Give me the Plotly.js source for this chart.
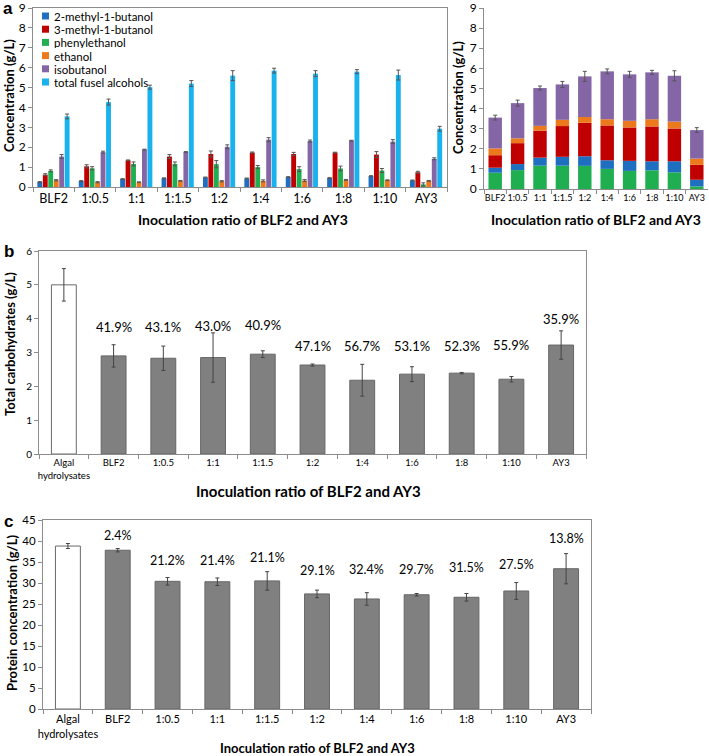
<!DOCTYPE html>
<html>
<head>
<meta charset="utf-8">
<script src="https://cdn.plot.ly/plotly-3.0.1.min.js"></script>
<style>html,body{margin:0;padding:0;background:#fff;}#chart{width:709px;height:756px;}</style>
</head>
<body>
<div id="chart"></div>
<script>
// ---------- DATA ----------
const ratios = ['BLF2', '1:0.5', '1:1', '1:1.5', '1:2', '1:4', '1:6', '1:8', '1:10', 'AY3'];
const seriesNames = ['2-methyl-1-butanol', '3-methyl-1-butanol', 'phenylethanol', 'ethanol', 'isobutanol', 'total fusel alcohols'];

const methylButanol2 = [0.25, 0.30, 0.40, 0.44, 0.48, 0.43, 0.50, 0.45, 0.55, 0.33];
const methylButanol2Err = [0.02, 0.02, 0.02, 0.02, 0.02, 0.02, 0.02, 0.02, 0.02, 0.02];
const methylButanol3 = [0.62, 1.04, 1.34, 1.53, 1.66, 1.73, 1.66, 1.73, 1.63, 0.74];
const methylButanol3Err = [0.05, 0.08, 0.02, 0.10, 0.15, 0.03, 0.08, 0.02, 0.15, 0.05];
const phenylethanol = [0.81, 0.94, 1.16, 1.16, 1.15, 1.00, 0.90, 0.93, 0.83, 0.13];
const phenylethanolErr = [0.05, 0.08, 0.10, 0.10, 0.18, 0.08, 0.12, 0.12, 0.10, 0.08];
const ethanol = [0.34, 0.24, 0.24, 0.31, 0.29, 0.31, 0.33, 0.36, 0.34, 0.31];
const ethanolErr = [0.03, 0.03, 0.02, 0.02, 0.03, 0.05, 0.05, 0.02, 0.02, 0.02];
const isobutanol = [1.53, 1.75, 1.88, 1.76, 2.02, 2.38, 2.31, 2.33, 2.28, 1.42];
const isobutanolErr = [0.10, 0.05, 0.02, 0.02, 0.10, 0.10, 0.05, 0.02, 0.10, 0.05];
const totalFusel = [3.55, 4.27, 5.02, 5.20, 5.60, 5.85, 5.70, 5.80, 5.63, 2.93];
const totalFuselErr = [0.12, 0.15, 0.10, 0.15, 0.25, 0.12, 0.15, 0.10, 0.25, 0.12];

const bcCategories = ['Algal<br>hydrolysates', 'BLF2', '1:0.5', '1:1', '1:1.5', '1:2', '1:4', '1:6', '1:8', '1:10', 'AY3'];
const carbohydrates = [5.00, 2.90, 2.83, 2.85, 2.95, 2.63, 2.18, 2.36, 2.39, 2.21, 3.22];
const carbohydratesErr = [0.48, 0.33, 0.36, 0.73, 0.10, 0.03, 0.47, 0.22, 0.02, 0.08, 0.42];
const carbPct = ['', '41.9%', '43.1%', '43.0%', '40.9%', '47.1%', '56.7%', '53.1%', '52.3%', '55.9%', '35.9%'];
const protein = [38.8, 37.8, 30.4, 30.3, 30.5, 27.4, 26.2, 27.2, 26.6, 28.1, 33.4];
const proteinErr = [0.6, 0.4, 0.9, 0.9, 2.2, 0.9, 1.5, 0.3, 0.9, 2.0, 3.6];
const proteinPct = ['', '2.4%', '21.2%', '21.4%', '21.1%', '29.1%', '32.4%', '29.7%', '31.5%', '27.5%', '13.8%'];

// ---------- STYLE ----------
const colors = ['#1f6fc0', '#c00000', '#1fae50', '#ec7a1c', '#8466a6', '#19b2ec'];
const FONT = 'Lato, "Liberation Sans", sans-serif';
const AXC = '#8c8c8c';
const W = 709, H = 756;
const px = v => v / W;
const py = v => 1 - v / H;

// label heights (data units) for percentage annotations
const carbLabelY = [null, 3.75, 3.75, 3.77, 3.80, 3.20, 3.20, 3.19, 3.20, 3.22, 4.00];
const protLabelY = [null, 41.2, 35.4, 35.4, 36.0, 33.0, 33.1, 33.2, 33.8, 34.4, 40.6];

const grouped = [methylButanol2, methylButanol3, phenylethanol, ethanol, isobutanol, totalFusel];
const groupedErr = [methylButanol2Err, methylButanol3Err, phenylethanolErr, ethanolErr, isobutanolErr, totalFuselErr];

const traces = [];
// Panel a left: grouped bars
const bw = 0.118, step = 0.132, start = -0.395;
grouped.forEach((vals, i) => {
  traces.push({
    type: 'bar', x: ratios, y: vals, name: seriesNames[i], xaxis: 'x', yaxis: 'y',
    width: bw, offset: start + i * step,
    marker: {color: colors[i], line: {width: 0}},
    error_y: {type: 'data', array: groupedErr[i], visible: true, color: '#555', thickness: 1, width: 2},
    showlegend: false, hoverinfo: 'x+y+name'
  });
});

// Panel a right: stacked bars (bottom->top: phenylethanol, 2-methyl, 3-methyl, ethanol, isobutanol)
const stackOrder = [2, 0, 1, 3, 4];
let base = ratios.map(() => 0);
stackOrder.forEach((si, k) => {
  const vals = grouped[si];
  const tr = {
    type: 'bar', x: ratios, y: vals, base: base.slice(), name: seriesNames[si], xaxis: 'x2', yaxis: 'y2',
    width: 0.6, offset: -0.3,
    marker: {color: colors[si], line: {width: 0}}, showlegend: false
  };
  if (k === stackOrder.length - 1) {
    tr.error_y = {type: 'data', array: totalFuselErr, visible: true, color: '#555', thickness: 1, width: 2};
  }
  traces.push(tr);
  base = base.map((b, j) => b + vals[j]);
});

const bcFill = bcCategories.map((c, i) => i === 0 ? '#ffffff' : '#808080');
const bcLine = bcCategories.map((c, i) => i === 0 ? '#6a6a6a' : '#666666');
// Panel b
traces.push({
  type: 'bar', x: bcCategories, y: carbohydrates, xaxis: 'x3', yaxis: 'y3', width: 0.5,
  marker: {color: bcFill, line: {color: bcLine, width: 1}},
  error_y: {type: 'data', array: carbohydratesErr, visible: true, color: '#444', thickness: 1, width: 2},
  showlegend: false
});
// Panel c
traces.push({
  type: 'bar', x: bcCategories, y: protein, xaxis: 'x4', yaxis: 'y4', width: 0.5,
  marker: {color: bcFill, line: {color: bcLine, width: 1}},
  error_y: {type: 'data', array: proteinErr, visible: true, color: '#444', thickness: 1, width: 2},
  showlegend: false
});

const annotations = [];
const shapes = [];
function ann(text, x, y, opts) {
  annotations.push(Object.assign({text: text, x: x, y: y, xref: 'paper', yref: 'paper', showarrow: false,
    xanchor: 'center', yanchor: 'middle',
    font: {family: FONT, size: 13, color: '#000'}}, opts || {}));
}
// panel letters
const letterFont = {family: '"Liberation Sans", Arial', size: 17, color: '#000'};
ann('<b>a</b>', px(1), py(9), {xanchor: 'left', font: letterFont});
ann('<b>b</b>', px(2), py(252), {xanchor: 'left', font: letterFont});
ann('<b>c</b>', px(2), py(521), {xanchor: 'left', font: letterFont});
// x titles
ann('<b>Inoculation ratio of BLF2 and AY3</b>', px(243), py(220), {font: {family: FONT, size: 14, color: '#000'}});
ann('<b>Inoculation ratio of BLF2 and AY3</b>', px(596), py(220), {font: {family: FONT, size: 14, color: '#000'}});
ann('<b>Inoculation ratio of BLF2 and AY3</b>', px(308), py(491), {font: {family: FONT, size: 15, color: '#000'}});
ann('<b>Inoculation ratio of BLF2 and AY3</b>', px(317), py(748), {font: {family: FONT, size: 13, color: '#000'}});
// y titles
ann('<b>Concentration (g/L)</b>', px(9), py(96), {textangle: -90, font: {family: FONT, size: 13, color: '#000'}});
ann('<b>Concentration (g/L)</b>', px(458), py(98), {textangle: -90, font: {family: FONT, size: 13, color: '#000'}});
ann('<b>Total carbohydrates (g/L)</b>', px(10), py(344), {textangle: -90, font: {family: FONT, size: 13, color: '#000'}});
ann('<b>Protein concentration (g/L)</b>', px(12), py(613), {textangle: -90, font: {family: FONT, size: 13, color: '#000'}});

// legend (manual, compact)
seriesNames.forEach((n, i) => {
  const yc = 16 + i * 13.2;
  shapes.push({type: 'rect', xref: 'paper', yref: 'paper', x0: px(42), x1: px(49), y0: py(yc + 3.5), y1: py(yc - 3.5),
    fillcolor: colors[i], line: {width: 0}});
  ann(n, px(52), py(yc), {xanchor: 'left', height: 12, font: {family: FONT, size: 11.5, color: '#000'}});
});

// percentage labels
carbPct.forEach((t, i) => {
  if (!t) return;
  annotations.push({text: t, x: bcCategories[i], y: carbLabelY[i], xref: 'x3', yref: 'y3', showarrow: false,
    xanchor: 'center', yanchor: 'middle', font: {family: FONT, size: 13, color: '#000'}});
});
proteinPct.forEach((t, i) => {
  if (!t) return;
  annotations.push({text: t, x: bcCategories[i], y: protLabelY[i], xref: 'x4', yref: 'y4', showarrow: false,
    xanchor: 'center', yanchor: 'middle', font: {family: FONT, size: 12.5, color: '#000'}});
});

const baseX = {type: 'category', showgrid: false, zeroline: false, linecolor: AXC, linewidth: 1, tickangle: 0,
  ticks: 'outside', tickson: 'boundaries', ticklen: 4, tickcolor: AXC, fixedrange: true, automargin: false,
  ticklabeloverflow: 'allow'};
const baseY = {showgrid: false, zeroline: false, linecolor: AXC, linewidth: 1, ticks: 'outside',
  ticklen: 4, tickcolor: AXC, fixedrange: true, automargin: false, ticklabeloverflow: 'allow'};

const layout = {
  width: W, height: H, margin: {l: 0, r: 0, t: 0, b: 0}, paper_bgcolor: '#fff', plot_bgcolor: '#fff',
  barmode: 'overlay', showlegend: false,
  font: {family: FONT, color: '#000'},
  xaxis: Object.assign({}, baseX, {domain: [px(33), px(447)], anchor: 'y', mirror: true,
    tickfont: {family: FONT, size: 12.5}}),
  yaxis: Object.assign({}, baseY, {domain: [py(187), py(8)], anchor: 'x', range: [0, 9], dtick: 1, mirror: true,
    tickfont: {family: FONT, size: 12}}),
  xaxis2: Object.assign({}, baseX, {domain: [px(484), px(708)], anchor: 'y2',
    tickfont: {family: FONT, size: 9}}),
  yaxis2: Object.assign({}, baseY, {domain: [py(189), py(8)], anchor: 'x2', range: [0, 9], dtick: 1,
    tickfont: {family: FONT, size: 12}}),
  xaxis3: Object.assign({}, baseX, {domain: [px(39), px(586)], anchor: 'y3', mirror: true,
    tickfont: {family: FONT, size: 9.5}}),
  yaxis3: Object.assign({}, baseY, {domain: [py(454), py(251)], anchor: 'x3', range: [0, 6], dtick: 1, mirror: true,
    tickfont: {family: FONT, size: 10}}),
  xaxis4: Object.assign({}, baseX, {domain: [px(43), px(591)], anchor: 'y4', mirror: true,
    tickfont: {family: FONT, size: 11}}),
  yaxis4: Object.assign({}, baseY, {domain: [py(709), py(520)], anchor: 'x4', range: [0, 45], dtick: 5, mirror: true,
    tickfont: {family: FONT, size: 11.5}}),
  annotations: annotations, shapes: shapes
};

Plotly.newPlot('chart', traces, layout, {displayModeBar: false, staticPlot: true});
</script>
</body>
</html>
